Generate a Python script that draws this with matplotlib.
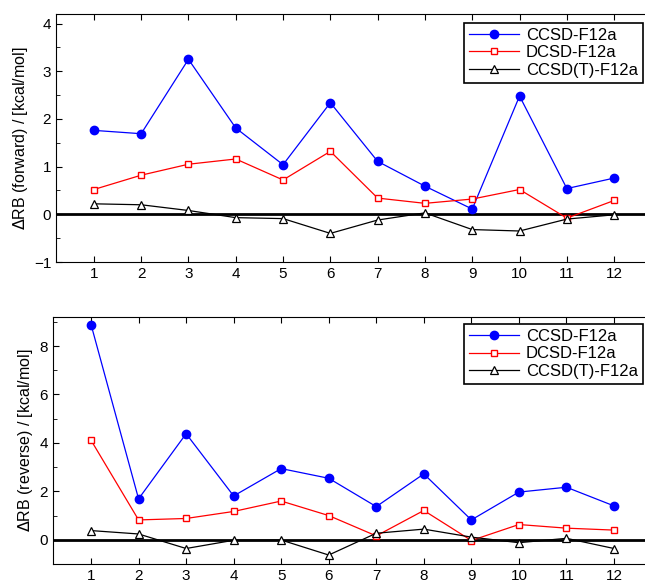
import numpy as np
import matplotlib.pyplot as plt
from matplotlib.ticker import MultipleLocator

plt.rcParams['font.family'] = ['Liberation Sans', 'DejaVu Sans']

systems = list(range(1, 13))
labels = ['CCSD-F12a', 'DCSD-F12a', 'CCSD(T)-F12a']

# forward barrier errors
fwd_ccsd = [1.76, 1.69, 3.25, 1.81, 1.04, 2.34, 1.11, 0.59, 0.11, 2.48, 0.54, 0.76]
fwd_dcsd = [0.52, 0.82, 1.05, 1.16, 0.72, 1.32, 0.34, 0.23, 0.32, 0.52, -0.08, 0.29]
fwd_ccsdt = [0.22, 0.20, 0.08, -0.07, -0.09, -0.40, -0.12, 0.03, -0.32, -0.35, -0.10, -0.01]

# reverse barrier errors
rev_ccsd = [8.89, 1.69, 4.38, 1.81, 2.94, 2.54, 1.37, 2.72, 0.82, 1.97, 2.17, 1.40]
rev_dcsd = [4.11, 0.82, 0.88, 1.17, 1.60, 1.00, 0.16, 1.21, -0.03, 0.63, 0.48, 0.40]
rev_ccsdt = [0.38, 0.24, -0.36, -0.02, -0.01, -0.63, 0.27, 0.44, 0.11, -0.12, 0.06, -0.36]

W, H = 645, 582
fig = plt.figure(figsize=(W / 100, H / 100), dpi=100)


def draw(ax, ccsd, dcsd, ccsdt, ylabel, ylim, major, minor, legend_top):
    ax.axhline(0, color='black', lw=2, zorder=1)
    ax.plot(systems, ccsd, '-o', color='blue', lw=0.9, ms=6, mfc='blue', mec='blue', label=labels[0], zorder=3)
    ax.plot(systems, dcsd, '-s', color='red', lw=0.9, ms=5, mfc='white', mec='red', mew=1, label=labels[1], zorder=3)
    ax.plot(systems, ccsdt, '-^', color='black', lw=0.9, ms=6, mfc='white', mec='black', mew=0.9, label=labels[2], zorder=3)
    ax.set_xlim(0.2, 12.8)
    ax.set_ylim(*ylim)
    ax.set_xticks(systems)
    ax.yaxis.set_major_locator(MultipleLocator(major))
    ax.yaxis.set_minor_locator(MultipleLocator(minor))
    ax.tick_params(which='both', direction='in', top=True, right=True, labelsize=11)
    ax.tick_params(which='major', length=4)
    ax.tick_params(which='minor', length=3)
    ax.set_ylabel(ylabel, fontsize=11.5, labelpad=3)
    leg = ax.legend(loc='upper right', bbox_to_anchor=(643 / W, 1 - legend_top / H),
                    bbox_transform=fig.transFigure, borderaxespad=0, fancybox=False,
                    framealpha=1, edgecolor='black', fontsize=12, handlelength=3.0,
                    borderpad=0.3, labelspacing=0.15, handletextpad=0.4)
    leg.get_frame().set_linewidth(1.2)


ax1 = fig.add_axes([56 / W, 1 - 262 / H, (652 - 56) / W, (262 - 14) / H])
draw(ax1, fwd_ccsd, fwd_dcsd, fwd_ccsdt, r'$\Delta$RB (forward) / [kcal/mol]',
     (-1, 4.2), 1, 0.5, 22.7)

ax2 = fig.add_axes([53 / W, 1 - 564 / H, (652 - 53) / W, (564 - 317) / H])
draw(ax2, rev_ccsd, rev_dcsd, rev_ccsdt, r'$\Delta$RB (reverse) / [kcal/mol]',
     (-1, 9.2), 2, 1, 324)

fig.savefig('out.png', dpi=100)
